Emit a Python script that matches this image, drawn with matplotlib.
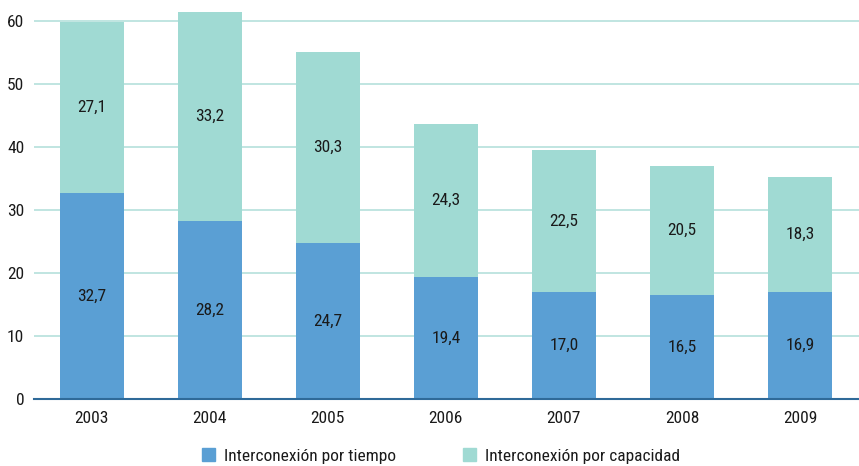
import matplotlib
matplotlib.use("Agg")
import matplotlib.pyplot as plt
from matplotlib import font_manager as fm
from matplotlib.patches import Patch

names = {f.name for f in fm.fontManager.ttflist}
fam = next((n for n in ["Roboto Condensed", "PT Sans Narrow", "Archivo Narrow", "Liberation Sans"] if n in names), "DejaVu Sans")
plt.rcParams['font.family'] = [fam, 'DejaVu Sans']

years = ["2003", "2004", "2005", "2006", "2007", "2008", "2009"]
tiempo = [32.7, 28.2, 24.7, 19.4, 17.0, 16.5, 16.9]
capacidad = [27.1, 33.2, 30.3, 24.3, 22.5, 20.5, 18.3]
series_names = ["Interconexión por tiempo", "Interconexión por capacidad"]
yticks = [0, 10, 20, 30, 40, 50, 60]

c1 = "#5a9fd4"
c2 = "#a0dad3"
tc = "#1a1a1a"

fig = plt.figure(figsize=(8.59, 4.66), dpi=100)
ax = fig.add_axes([34/859, 1-399/466, 1-34/859, 399/466])

x = list(range(len(years)))
w = 0.54
ax.bar(x, tiempo, width=w, color=c1, zorder=3)
ax.bar(x, capacidad, width=w, bottom=tiempo, color=c2, zorder=3)

for i in x:
    ax.text(i, tiempo[i]/2, f"{tiempo[i]:.1f}".replace(".", ","), ha="center", va="center",
            fontsize=12.5, color=tc, zorder=4)
    ax.text(i, tiempo[i] + capacidad[i]/2, f"{capacidad[i]:.1f}".replace(".", ","), ha="center",
            va="center", fontsize=12.5, color=tc, zorder=4)

ax.set_xlim(-0.49, 6.5)
ax.set_ylim(0, 63.3)
ax.set_yticks(yticks)
ax.set_yticklabels([str(v) for v in yticks], fontsize=12.5, color=tc)
ax.set_xticks(x)
ax.set_xticklabels(years, fontsize=12.5, color=tc)
ax.tick_params(axis='both', length=0)
ax.tick_params(axis='x', pad=8.5)
ax.tick_params(axis='y', pad=7)
ax.grid(axis='y', color="#b5e0dc", linewidth=1.2, zorder=0)
for s in ["top", "right", "left"]:
    ax.spines[s].set_visible(False)
ax.spines["bottom"].set_color("#2f6a99")
ax.spines["bottom"].set_linewidth(1.5)
ax.spines["bottom"].set_zorder(5)

handles = [Patch(color=c1), Patch(color=c2)]
fig.legend(handles, series_names, loc="center", bbox_to_anchor=(441/859, 1-456/466),
           ncol=2, frameon=False, fontsize=12.5, handlelength=0.75, handleheight=0.75,
           columnspacing=3.9, handletextpad=0.5, labelcolor=tc)

fig.savefig("out.png", dpi=100)
